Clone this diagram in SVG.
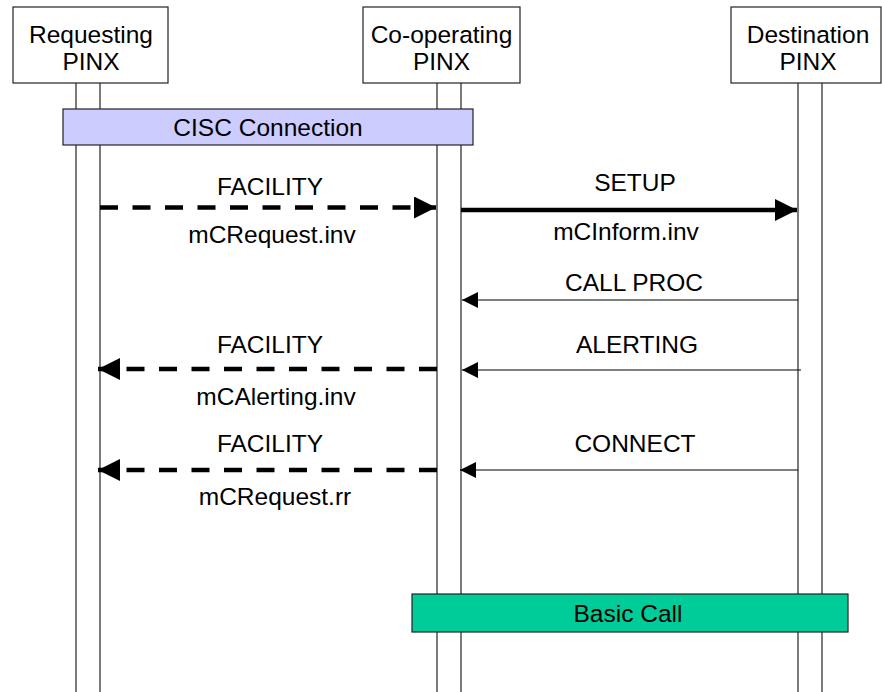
<svg xmlns="http://www.w3.org/2000/svg" width="882" height="692" viewBox="0 0 882 692">
  <defs>
    <marker id="headBig" markerUnits="userSpaceOnUse" viewBox="0 0 22 22" markerWidth="22" markerHeight="22" refX="22" refY="11" orient="auto">
      <path d="M0,0 L22,11 L0,22 Z" fill="#000"/>
    </marker>
    <marker id="headSmall" markerUnits="userSpaceOnUse" viewBox="0 0 16 16" markerWidth="16" markerHeight="16" refX="16" refY="8" orient="auto">
      <path d="M0,0 L16,8 L0,16 Z" fill="#000"/>
    </marker>
  </defs>
  <style>
    text { font-family: "Liberation Sans", Arial, sans-serif; font-size: 24.5px; fill: #000; text-anchor: middle; }
    .box { fill: #fff; stroke: #222; stroke-width: 1.2; }
    .life { stroke: #222; stroke-width: 1.2; fill: none; }
    .bar { stroke: #222; stroke-width: 1.2; }
    .thick { stroke: #000; stroke-width: 4.5; fill: none; marker-end: url(#headBig); }
    .dash { stroke-dasharray: 18 14.5; }
    .thin { stroke: #000; stroke-width: 1.2; fill: none; marker-end: url(#headSmall); }
  </style>
  <rect width="882" height="692" fill="#fff"/>

  <!-- lifelines (double rails) -->
  <g id="lifelines">
    <line class="life" x1="76" y1="83" x2="76" y2="692"/>
    <line class="life" x1="100" y1="83" x2="100" y2="692"/>
    <line class="life" x1="437" y1="83" x2="437" y2="692"/>
    <line class="life" x1="461" y1="83" x2="461" y2="692"/>
    <line class="life" x1="798" y1="83" x2="798" y2="692"/>
    <line class="life" x1="822" y1="83" x2="822" y2="692"/>
  </g>

  <g id="requesting">
    <rect class="box" x="13" y="7" width="155" height="76"/>
    <text x="91" y="43">Requesting</text>
    <text x="91" y="70">PINX</text>
  </g>
  <g id="cooperating">
    <rect class="box" x="363" y="7" width="157" height="76"/>
    <text x="441.5" y="43">Co-operating</text>
    <text x="441.5" y="70">PINX</text>
  </g>
  <g id="destination">
    <rect class="box" x="731" y="7" width="150" height="76"/>
    <text x="808" y="43">Destination</text>
    <text x="808" y="70">PINX</text>
  </g>

  <g id="cisc">
    <rect class="bar" x="63" y="109" width="410" height="36" fill="#ccccff"/>
    <text x="268" y="136">CISC Connection</text>
  </g>

  <g id="basic-call">
    <rect class="bar" x="412" y="594" width="436" height="38" fill="#00cc99"/>
    <text x="628" y="622">Basic Call</text>
  </g>

  <!-- message connectors -->
  <g id="connectors">
    <line class="thick dash" x1="100" y1="207.5" x2="436" y2="207.5"/>
    <line class="thick" x1="461" y1="210" x2="797" y2="210"/>
    <line class="thin" x1="798" y1="300" x2="462" y2="300"/>
    <line class="thin" x1="801" y1="370" x2="462" y2="370"/>
    <line class="thick dash" x1="437" y1="369" x2="98" y2="369"/>
    <line class="thin" x1="798" y1="470" x2="460" y2="470"/>
    <line class="thick dash" x1="437" y1="470" x2="98" y2="470"/>
  </g>

  <g id="labels">
    <text x="270" y="195">FACILITY</text>
    <text x="272" y="243">mCRequest.inv</text>
    <text x="635" y="191">SETUP</text>
    <text x="626" y="240">mCInform.inv</text>
    <text x="634" y="291">CALL PROC</text>
    <text x="637" y="353">ALERTING</text>
    <text x="270" y="353">FACILITY</text>
    <text x="276" y="405">mCAlerting.inv</text>
    <text x="270" y="452">FACILITY</text>
    <text x="635" y="452">CONNECT</text>
    <text x="275" y="505">mCRequest.rr</text>
  </g>
</svg>
